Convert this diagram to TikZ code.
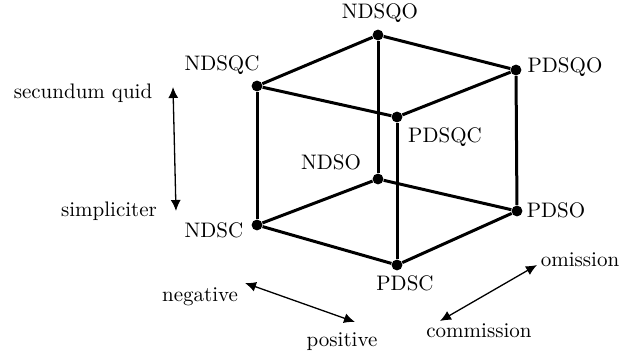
\documentclass[tikz,border=0pt]{standalone}
\usetikzlibrary{arrows.meta}
\tikzset{
  vtx/.style={circle,fill=black,inner sep=0pt,minimum size=5.4pt},
  edge/.style={line width=1.5pt},
  lbl/.style={inner sep=0pt,font=\fontsize{10.5}{12}\selectfont},
  dbl/.style={line width=0.65pt,{Latex[length=5.5pt,width=5pt]}-{Latex[length=5.5pt,width=5pt]}}
}
\begin{document}
\begin{tikzpicture}[x=0.5pt,y=-0.5pt]
\useasboundingbox (0,0) rectangle (623,359);
% vertices
\node[vtx] (NDSQO) at (378,35) {};
\node[vtx] (PDSQO) at (516,70) {};
\node[vtx] (NDSQC) at (257,86) {};
\node[vtx] (PDSQC) at (397,117) {};
\node[vtx] (NDSO) at (378,179) {};
\node[vtx] (PDSO) at (517,211) {};
\node[vtx] (NDSC) at (257,225) {};
\node[vtx] (PDSC) at (397,265) {};
% edges
\draw[edge] (NDSQC) -- (NDSQO) -- (PDSQO) -- (PDSQC) -- (NDSQC);
\draw[edge] (NDSC) -- (NDSO) -- (PDSO) -- (PDSC) -- (NDSC);
\draw[edge] (NDSQC) -- (NDSC);
\draw[edge] (NDSQO) -- (NDSO);
\draw[edge] (PDSQO) -- (PDSO);
\draw[edge] (PDSQC) -- (PDSC);
% vertex labels
\node[lbl] (tNDSQO) at (380,13) {NDSQO};
\node[lbl] (tPDSQO) at (565,67) {PDSQO};
\node[lbl] (tNDSQC) at (222,65) {NDSQC};
\node[lbl] (tPDSQC) at (445,137) {PDSQC};
\node[lbl] (tNDSO) at (331,162) {NDSO};
\node[lbl] (tPDSO) at (556,210) {PDSO};
\node[lbl] (tNDSC) at (214,230) {NDSC};
\node[lbl] (tPDSC) at (405,283) {PDSC};
% axis labels
\node[lbl] (sq) at (83,93) {secundum quid};
\node[lbl] (sp) at (109,211) {simpliciter};
\node[lbl] (neg) at (200,297) {negative};
\node[lbl] (pos) at (342,342) {positive};
\node[lbl] (om) at (580,260) {omission};
\node[lbl] (com) at (479,331) {commission};
% arrow ends
\coordinate (a1) at (173,87);
\coordinate (a2) at (176,211);
\coordinate (b1) at (245,283);
\coordinate (b2) at (355,322);
\coordinate (c1) at (440,321);
\coordinate (c2) at (537,265);
\draw[dbl] (a1) -- (a2);
\draw[dbl] (b1) -- (b2);
\draw[dbl] (c1) -- (c2);
\end{tikzpicture}
\end{document}
